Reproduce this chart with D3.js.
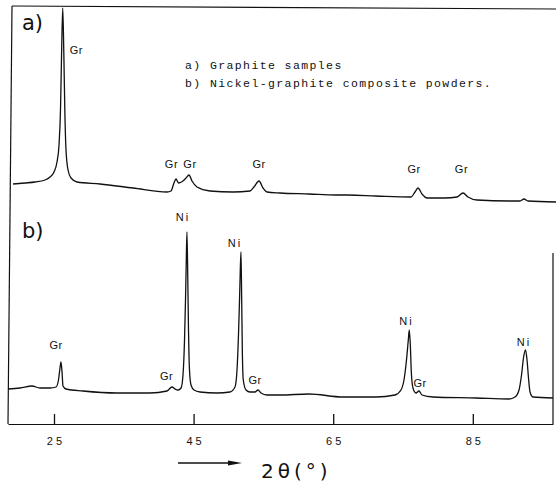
<!DOCTYPE html>
<html>
<head>
<meta charset="utf-8">
<script src="https://cdn.jsdelivr.net/npm/d3@7"></script>
<style>
  html, body { margin: 0; padding: 0; background: #fff; }
  svg { display: block; }
</style>
</head>
<body>
<svg id="chart" width="556" height="488"></svg>
<script>
// ---- data ----
const tickValues = [25, 45, 65, 85];

// a) Graphite samples
const twoThetaA = [19.13,20.85,22.28,23.71,24.43,25.0,25.43,25.72,25.93,26.07,26.25,26.40,26.55,26.72,27.01,27.44,28.3,31.59,36.32,41.19,41.76,42.19,42.48,42.84,43.48,43.91,44.34,44.77,45.49,47.35,50.64,53.08,53.65,54.37,54.94,55.52,57.38,61.53,65.4,67.12,71.13,76.15,76.72,77.15,77.72,78.44,81.02,82.74,83.6,84.31,85.6,90.19,91.76,92.34,92.91,96.92];
const intensityA = [40,41,42,44,47,52,62,79,114,164,216,174,114,74,54,46,42,40,36,32,33,41,45,41,43,46,49,43,37,33,32,33,37,43,36,32,31,30,29,29,28,27,32,36,30,26,26,27,31,27,24,23,23,25,23,22];

// b) Nickel-graphite composite powders
const twoThetaB = [18.41,20.13,21.85,22.99,24.43,25.29,25.64,25.86,26.0,26.15,26.29,26.72,29.15,34.0,38.75,41.19,41.9,42.34,42.77,43.2,43.48,43.7,43.84,43.94,44.05,44.17,44.27,44.41,44.63,45.06,45.92,48.35,50.21,50.93,51.22,51.43,51.58,51.69,51.79,51.89,51.98,52.12,52.51,53.08,53.8,54.23,54.66,55.52,57.38,61.53,66.4,71.13,73.85,74.71,75.14,75.5,75.76,75.9,76.05,76.19,76.43,76.86,77.29,77.72,79.3,85.46,90.19,91.05,91.62,91.98,92.26,92.55,92.77,92.98,93.2,93.62,96.49];
const intensityB = [35,36,38,36,36,37,44,56,62,52,38,35,33,31,31,33,37,35,34,36,49,84,124,159,192,144,94,54,39,34,32,31,32,37,54,89,124,154,172,124,74,44,34,32,32,34,31,29,29,30,27,27,29,34,44,64,84,94,79,52,36,31,33,29,27,26,25,27,34,49,66,74,64,46,32,27,26];

// peak labels (phase, 2θ, intensity level of label baseline)
const labelTextA  = ["Gr", "Gr", "Gr", "Gr", "Gr", "Gr"];
const labelThetaA = [28.2, 41.83, 44.48, 54.37, 76.58, 83.38];
const labelLevelA = [170, 56, 56, 56, 51, 51];

const labelTextB  = ["Gr", "Gr", "Ni", "Ni", "Gr", "Ni", "Gr", "Ni"];
const labelThetaB = [25.29, 41.12, 43.48, 50.93, 53.8, 75.5, 77.44, 92.34];
const labelLevelB = [75, 44, 203, 177, 40, 99, 37, 78];

const panelLabels = ["a)", "b)"];
const legendLines = ["a) Graphite samples", "b) Nickel-graphite composite powders."];

// ---- drawing ----
const svg = d3.select("#chart");
const x = d3.scaleLinear().domain([18.41, 96.49]).range([8, 553]);
const y = d3.scaleLinear().domain([0, 420]).range([424, 4]);
const offsetA = 200;   // vertical stacking of trace a
const offsetB = 0;

const ink = "#111";

// frame
svg.append("path").attr("d", "M12,6 L556,9").attr("stroke", ink).attr("stroke-width", 1.2).attr("fill", "none");
svg.append("path").attr("d", "M12,6 L8,424").attr("stroke", ink).attr("stroke-width", 1.2).attr("fill", "none");
svg.append("path").attr("d", "M553,253 L553,424").attr("stroke", ink).attr("stroke-width", 1.2).attr("fill", "none");

// axis
const axis = d3.axisBottom(x).tickValues(tickValues).tickSizeInner(-10).tickSizeOuter(0).tickPadding(13).tickFormat(d => d);
const gx = svg.append("g").attr("transform", "translate(0,424)").call(axis);
gx.select(".domain").attr("stroke", ink).attr("stroke-width", 1.2);
gx.selectAll(".tick line").attr("stroke", ink).attr("stroke-width", 1.3);
gx.selectAll(".tick text")
  .attr("fill", ink)
  .style("font-family", "'Liberation Sans', Arial, sans-serif")
  .style("font-size", "11px")
  .style("letter-spacing", "3px")
  .attr("dx", "1.5px");

// traces
function drawTrace(thetas, vals, offset) {
  const pts = thetas.map((t, i) => [t, vals[i] + offset]);
  const line = d3.line().x(d => x(d[0])).y(d => y(d[1])).curve(d3.curveMonotoneX);
  svg.append("path").datum(pts).attr("d", line)
    .attr("fill", "none").attr("stroke", ink).attr("stroke-width", 1.3).attr("stroke-linejoin", "round");
}
drawTrace(twoThetaA, intensityA, offsetA);
drawTrace(twoThetaB, intensityB, offsetB);

// peak labels
function drawLabels(texts, thetas, levels, offset) {
  svg.append("g").selectAll("text").data(texts).join("text")
    .attr("x", (d, i) => x(thetas[i]))
    .attr("y", (d, i) => y(levels[i] + offset))
    .attr("text-anchor", "middle")
    .attr("fill", ink)
    .style("font-family", "'Liberation Sans', Arial, sans-serif")
    .style("font-size", "11px")
    .style("letter-spacing", d => d === "Ni" ? "2px" : "0.5px")
    .text(d => d);
}
drawLabels(labelTextA, labelThetaA, labelLevelA, offsetA);
drawLabels(labelTextB, labelThetaB, labelLevelB, offsetB);

// panel labels
svg.append("text").attr("x", 22).attr("y", 30).text(panelLabels[0])
  .attr("fill", ink).style("font-family", "'DejaVu Sans', sans-serif").style("font-size", "21px");
svg.append("text").attr("x", 22).attr("y", 238).text(panelLabels[1])
  .attr("fill", ink).style("font-family", "'DejaVu Sans', sans-serif").style("font-size", "21px");

// legend
svg.append("g").selectAll("text").data(legendLines).join("text")
  .attr("x", 185).attr("y", (d, i) => 69 + i * 18)
  .attr("fill", ink)
  .style("font-family", "'Liberation Mono', 'DejaVu Sans Mono', monospace")
  .style("font-size", "11.5px")
  .style("letter-spacing", "1.4px")
  .style("white-space", "pre")
  .text(d => d);

// x-axis title with arrow
svg.append("line").attr("x1", 178).attr("y1", 463).attr("x2", 232).attr("y2", 463)
  .attr("stroke", ink).attr("stroke-width", 1.6);
svg.append("path").attr("d", "M228,460.5 L242,463 L228,465.5 Z").attr("fill", ink);
svg.append("text").attr("x", 261).attr("y", 478).text("2θ(°)")
  .attr("fill", ink)
  .style("font-family", "'DejaVu Sans', sans-serif")
  .style("font-size", "20px")
  .style("letter-spacing", "4px");
</script>
</body>
</html>
